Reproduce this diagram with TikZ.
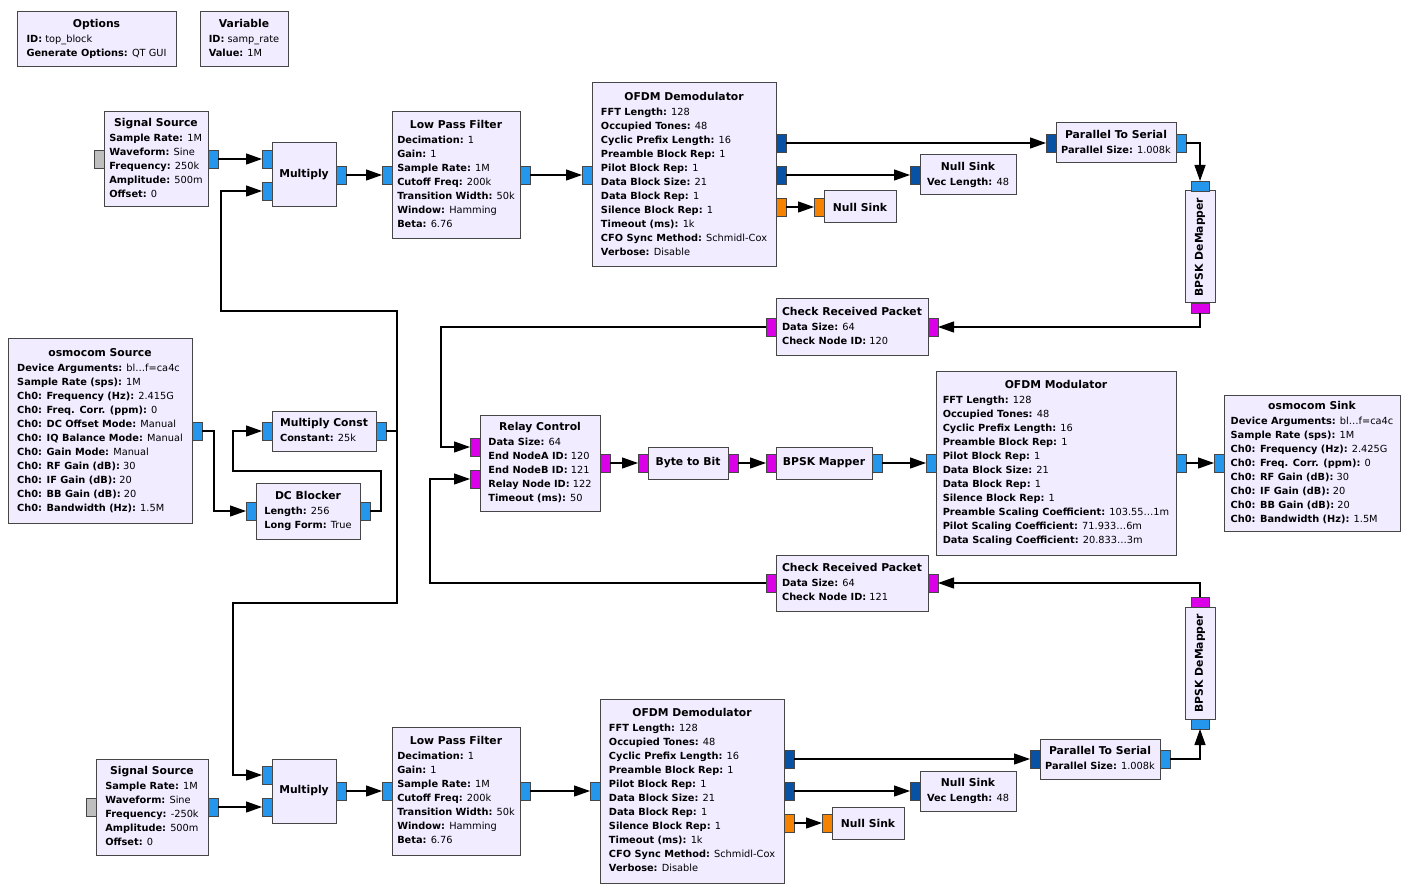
\documentclass[tikz,border=0pt]{standalone}
\usepackage{fontspec}
\setmainfont{DejaVu Sans}
\usetikzlibrary{arrows.meta}
\definecolor{blkfill}{RGB}{241,236,255}
\definecolor{blkdraw}{RGB}{70,70,70}
\definecolor{pblue}{RGB}{36,150,236}
\definecolor{pdblue}{RGB}{8,82,165}
\definecolor{porange}{RGB}{245,130,0}
\definecolor{pmag}{RGB}{218,0,232}
\definecolor{pgray}{RGB}{190,190,190}
\newcommand\ttl{\fontsize{10.8}{14}\selectfont\bfseries}
\newcommand\kv[2]{\textbf{#1:} #2\\}
\newcommand\btxt[2]{\begin{tabular}{@{}l@{}}\multicolumn{1}{@{}c@{}}{\ttl #1}\\[1pt]#2\end{tabular}}
\newcommand\Blk[6]{\node[blk, minimum width={(#4)-(#2)}, minimum height={(#5)-(#3)}] (#1) at ({((#2)+(#4))/2},{((#3)+(#5))/2}) {#6};}
\begin{document}
\begin{tikzpicture}[x=1pt,y=-1pt,
  blk/.style={draw=blkdraw, fill=blkfill, line width=1pt, inner sep=0pt, outer sep=0pt, font=\fontsize{9.8}{14}\selectfont},
  porth/.style={draw=blkdraw, line width=0.8pt, minimum width=10pt, minimum height=18pt, inner sep=0pt, outer sep=0pt},
  portv/.style={draw=blkdraw, line width=0.8pt, minimum width=18pt, minimum height=10pt, inner sep=0pt, outer sep=0pt},
  conn/.style={line width=1.2pt, -{Triangle[length=16pt,width=11pt]}}]
\fill[white] (0,0) rectangle (1410,890);
\useasboundingbox (0,0) rectangle (1410,890);

% ---------- blocks ----------
\Blk{opt}{17}{12}{176}{67}{\btxt{Options}{\kv{ID}{top\_block}\kv{Generate Options}{QT GUI}}}
\Blk{var}{200}{12}{288}{67}{\btxt{Variable}{\kv{ID}{samp\_rate}\kv{Value}{1M}}}

\Blk{ss1}{104}{112}{208}{207}{\btxt{Signal Source}{\kv{Sample Rate}{1M}\kv{Waveform}{Sine}\kv{Frequency}{250k}\kv{Amplitude}{500m}\kv{Offset}{0}}}
\Blk{m1}{272}{143}{336}{207}{{\ttl Multiply}}
\Blk{lpf1}{392}{112}{520}{239}{\btxt{Low Pass Filter}{\kv{Decimation}{1}\kv{Gain}{1}\kv{Sample Rate}{1M}\kv{Cutoff Freq}{200k}\kv{Transition Width}{50k}\kv{Window}{Hamming}\kv{Beta}{6.76}}}
\Blk{od1}{592}{83}{776}{267}{\btxt{OFDM Demodulator}{\kv{FFT Length}{128}\kv{Occupied Tones}{48}\kv{Cyclic Prefix Length}{16}\kv{Preamble Block Rep}{1}\kv{Pilot Block Rep}{1}\kv{Data Block Size}{21}\kv{Data Block Rep}{1}\kv{Silence Block Rep}{1}\kv{Timeout (ms)}{1k}\kv{CFO Sync Method}{Schmidl-Cox}\kv{Verbose}{Disable}}}
\Blk{ns1}{920}{155}{1016}{195}{\btxt{Null Sink}{\kv{Vec Length}{48}}}
\Blk{nso1}{824}{191}{896}{223}{{\ttl Null Sink}}
\Blk{p2s1}{1056}{123}{1176}{163}{\btxt{Parallel To Serial}{\kv{Parallel Size}{1.008k}}}
\node[blk, rotate=90, minimum width=112pt, minimum height=30pt] (dm1) at (1200,247) {\ttl BPSK DeMapper};
\Blk{crp1}{776}{299}{928}{355}{\btxt{Check Received Packet}{\kv{Data Size}{64}\kv{Check Node ID}{120}}}

\Blk{osrc}{8}{339}{192}{523}{\btxt{osmocom Source}{\kv{Device Arguments}{bl…f=ca4c}\kv{Sample Rate (sps)}{1M}\kv{Ch0: Frequency (Hz)}{2.415G}\kv{Ch0: Freq. Corr. (ppm)}{0}\kv{Ch0: DC Offset Mode}{Manual}\kv{Ch0: IQ Balance Mode}{Manual}\kv{Ch0: Gain Mode}{Manual}\kv{Ch0: RF Gain (dB)}{30}\kv{Ch0: IF Gain (dB)}{20}\kv{Ch0: BB Gain (dB)}{20}\kv{Ch0: Bandwidth (Hz)}{1.5M}}}
\Blk{mc}{272}{411}{376}{451}{\btxt{Multiply Const}{\kv{Constant}{25k}}}
\Blk{dc}{256}{483}{360}{539}{\btxt{DC Blocker}{\kv{Length}{256}\kv{Long Form}{True}}}
\Blk{rc}{480}{415}{600}{511}{\btxt{Relay Control}{\kv{Data Size}{64}\kv{End NodeA ID}{120}\kv{End NodeB ID}{121}\kv{Relay Node ID}{122}\kv{Timeout (ms)}{50}}}
\Blk{bb}{648}{447}{728}{479}{{\ttl Byte to Bit}}
\Blk{bm}{776}{447}{872}{479}{{\ttl BPSK Mapper}}
\Blk{om}{936}{371}{1176}{555}{\btxt{OFDM Modulator}{\kv{FFT Length}{128}\kv{Occupied Tones}{48}\kv{Cyclic Prefix Length}{16}\kv{Preamble Block Rep}{1}\kv{Pilot Block Rep}{1}\kv{Data Block Size}{21}\kv{Data Block Rep}{1}\kv{Silence Block Rep}{1}\kv{Preamble Scaling Coefficient}{103.55…1m}\kv{Pilot Scaling Coefficient}{71.933…6m}\kv{Data Scaling Coefficient}{20.833…3m}}}
\Blk{osnk}{1224}{395}{1400}{531}{\btxt{osmocom Sink}{\kv{Device Arguments}{bl…f=ca4c}\kv{Sample Rate (sps)}{1M}\kv{Ch0: Frequency (Hz)}{2.425G}\kv{Ch0: Freq. Corr. (ppm)}{0}\kv{Ch0: RF Gain (dB)}{30}\kv{Ch0: IF Gain (dB)}{20}\kv{Ch0: BB Gain (dB)}{20}\kv{Ch0: Bandwidth (Hz)}{1.5M}}}
\Blk{crp2}{776}{555}{928}{611}{\btxt{Check Received Packet}{\kv{Data Size}{64}\kv{Check Node ID}{121}}}
\node[blk, rotate=90, minimum width=112pt, minimum height=30pt] (dm2) at (1200,663) {\ttl BPSK DeMapper};

\Blk{ss2}{96}{759}{208}{855}{\btxt{Signal Source}{\kv{Sample Rate}{1M}\kv{Waveform}{Sine}\kv{Frequency}{-250k}\kv{Amplitude}{500m}\kv{Offset}{0}}}
\Blk{m2}{272}{759}{336}{823}{{\ttl Multiply}}
\Blk{lpf2}{392}{727}{520}{855}{\btxt{Low Pass Filter}{\kv{Decimation}{1}\kv{Gain}{1}\kv{Sample Rate}{1M}\kv{Cutoff Freq}{200k}\kv{Transition Width}{50k}\kv{Window}{Hamming}\kv{Beta}{6.76}}}
\Blk{od2}{600}{699}{784}{883}{\btxt{OFDM Demodulator}{\kv{FFT Length}{128}\kv{Occupied Tones}{48}\kv{Cyclic Prefix Length}{16}\kv{Preamble Block Rep}{1}\kv{Pilot Block Rep}{1}\kv{Data Block Size}{21}\kv{Data Block Rep}{1}\kv{Silence Block Rep}{1}\kv{Timeout (ms)}{1k}\kv{CFO Sync Method}{Schmidl-Cox}\kv{Verbose}{Disable}}}
\Blk{ns2}{920}{771}{1016}{811}{\btxt{Null Sink}{\kv{Vec Length}{48}}}
\Blk{nso2}{832}{807}{904}{839}{{\ttl Null Sink}}
\Blk{p2s2}{1040}{739}{1160}{779}{\btxt{Parallel To Serial}{\kv{Parallel Size}{1.008k}}}

% ---------- ports ----------
\node[porth, fill=pgray] (ss1g) at (99,159) {};
\node[porth, fill=pblue] (ss1o) at (213,159) {};
\node[porth, fill=pblue] (m1i1) at (267,159) {};
\node[porth, fill=pblue] (m1i2) at (267,191) {};
\node[porth, fill=pblue] (m1o) at (341,175) {};
\node[porth, fill=pblue] (lpf1i) at (387,175) {};
\node[porth, fill=pblue] (lpf1o) at (525,175) {};
\node[porth, fill=pblue] (od1i) at (587,175) {};
\node[porth, fill=pdblue] (od1o1) at (781,143) {};
\node[porth, fill=pdblue] (od1o2) at (781,175) {};
\node[porth, fill=porange] (od1o3) at (781,207) {};
\node[porth, fill=pdblue] (ns1i) at (915,175) {};
\node[porth, fill=porange] (nso1i) at (819,207) {};
\node[porth, fill=pdblue] (p2s1i) at (1051,143) {};
\node[porth, fill=pblue] (p2s1o) at (1181,143) {};
\node[portv, fill=pblue] (dm1i) at (1200,186) {};
\node[portv, fill=pmag] (dm1o) at (1200,308) {};
\node[porth, fill=pmag] (crp1i) at (933,327) {};
\node[porth, fill=pmag] (crp1o) at (771,327) {};

\node[porth, fill=pblue] (oso) at (197,431) {};
\node[porth, fill=pblue] (mci) at (267,431) {};
\node[porth, fill=pblue] (mco) at (381,431) {};
\node[porth, fill=pblue] (dci) at (251,511) {};
\node[porth, fill=pblue] (dco) at (365,511) {};
\node[porth, fill=pmag] (rci1) at (475,447) {};
\node[porth, fill=pmag] (rci2) at (475,479) {};
\node[porth, fill=pmag] (rco) at (605,463) {};
\node[porth, fill=pmag] (bbi) at (643,463) {};
\node[porth, fill=pmag] (bbo) at (733,463) {};
\node[porth, fill=pmag] (bmi) at (771,463) {};
\node[porth, fill=pblue] (bmo) at (877,463) {};
\node[porth, fill=pblue] (omi) at (931,463) {};
\node[porth, fill=pblue] (omo) at (1181,463) {};
\node[porth, fill=pblue] (osi) at (1219,463) {};
\node[porth, fill=pmag] (crp2i) at (933,583) {};
\node[porth, fill=pmag] (crp2o) at (771,583) {};
\node[portv, fill=pmag] (dm2o) at (1200,602) {};
\node[portv, fill=pblue] (dm2i) at (1200,724) {};

\node[porth, fill=pgray] (ss2g) at (91,807) {};
\node[porth, fill=pblue] (ss2o) at (213,807) {};
\node[porth, fill=pblue] (m2i1) at (267,775) {};
\node[porth, fill=pblue] (m2i2) at (267,807) {};
\node[porth, fill=pblue] (m2o) at (341,791) {};
\node[porth, fill=pblue] (lpf2i) at (387,791) {};
\node[porth, fill=pblue] (lpf2o) at (525,791) {};
\node[porth, fill=pblue] (od2i) at (595,791) {};
\node[porth, fill=pdblue] (od2o1) at (789,759) {};
\node[porth, fill=pdblue] (od2o2) at (789,791) {};
\node[porth, fill=porange] (od2o3) at (789,823) {};
\node[porth, fill=pdblue] (ns2i) at (915,791) {};
\node[porth, fill=porange] (nso2i) at (827,823) {};
\node[porth, fill=pdblue] (p2s2i) at (1035,759) {};
\node[porth, fill=pblue] (p2s2o) at (1165,759) {};

% ---------- connections ----------
\draw[conn] (ss1o.east) -- (m1i1.west);
\draw[conn] (m1o.east) -- (lpf1i.west);
\draw[conn] (lpf1o.east) -- (od1i.west);
\draw[conn] (od1o1.east) -- (p2s1i.west);
\draw[conn] (od1o2.east) -- (ns1i.west);
\draw[conn] (od1o3.east) -- (nso1i.west);
\draw[conn] (p2s1o.east) -| (dm1i.north);
\draw[conn] (dm1o.south) |- (crp1i.east);
\draw[conn] (crp1o.west) -| ([xshift=-29pt]rci1.west) -- (rci1.west);
\draw[conn] (rco.east) -- (bbi.west);
\draw[conn] (bbo.east) -- (bmi.west);
\draw[conn] (bmo.east) -- (omi.west);
\draw[conn] (omo.east) -- (osi.west);
\draw[conn] (dm2o.north) |- (crp2i.east);
\draw[conn] (crp2o.west) -| ([xshift=-40pt]rci2.west) -- (rci2.west);
\draw[conn] (oso.east) -- ++(12,0) |- (dci.west);
\draw[conn] (dco.east) -- ++(11,0) |- ([shift={(-29pt,-40pt)}]mci.west) |- (mci.west);
\draw[conn] (mco.east) -- ++(11,0) -- ++(0,-120) -- ++(-176,0) |- (m1i2.west);
\draw[conn] (mco.east) -- ++(11,0) -- ++(0,172) -- ++(-164,0) |- (m2i1.west);
\draw[conn] (ss2o.east) -- (m2i2.west);
\draw[conn] (m2o.east) -- (lpf2i.west);
\draw[conn] (lpf2o.east) -- (od2i.west);
\draw[conn] (od2o1.east) -- (p2s2i.west);
\draw[conn] (od2o2.east) -- (ns2i.west);
\draw[conn] (od2o3.east) -- (nso2i.west);
\draw[conn] (p2s2o.east) -| (dm2i.south);
\end{tikzpicture}
\end{document}
